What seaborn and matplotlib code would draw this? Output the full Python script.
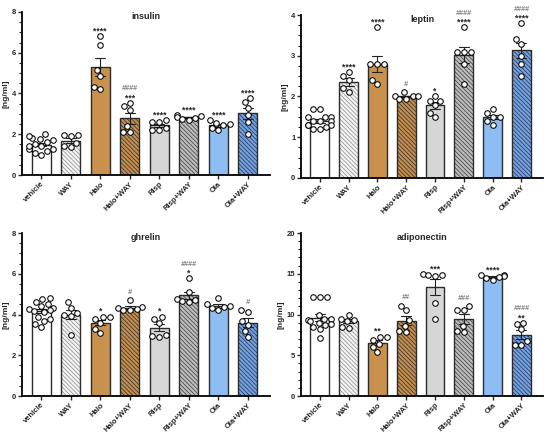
import numpy as np
import pandas as pd
import seaborn as sns
import matplotlib
matplotlib.use('Agg')
import matplotlib.pyplot as plt
from matplotlib.patches import Rectangle
from matplotlib.ticker import AutoMinorLocator, MultipleLocator

groups = ['vehicle', 'WAY', 'Halo', 'Halo+WAY', 'Risp', 'Risp+WAY', 'Ola', 'Ola+WAY']

# single animals
insulin = [
    [1.0, 1.1, 1.2, 1.3, 1.3, 1.4, 1.4, 1.5, 1.6, 1.7, 1.75, 1.8, 1.9, 2.0],
    [1.35, 1.4, 1.55, 1.9, 1.95, 1.95],
    [6.84, 6.39, 5.16, 4.87, 4.34, 4.23],
    [3.55, 3.4, 3.2, 2.4, 2.1, 2.1],
    [2.7, 2.6, 2.6, 2.3, 2.2, 2.2],
    [2.95, 2.9, 2.85, 2.8, 2.75, 2.7],
    [2.7, 2.55, 2.5, 2.45, 2.3, 2.2],
    [3.77, 3.57, 3.28, 2.95, 2.62, 2.02],
]
leptin = [
    [1.7, 1.7, 1.5, 1.5, 1.5, 1.4, 1.4, 1.4, 1.3, 1.3, 1.3, 1.2, 1.2, 1.25],
    [2.6, 2.5, 2.4, 2.2, 2.1],
    [3.7, 2.8, 2.8, 2.8, 2.4, 2.3],
    [2.1, 2.0, 2.0, 2.0, 1.95, 1.95],
    [2.0, 1.9, 1.9, 1.8, 1.6, 1.5],
    [3.7, 3.1, 3.1, 3.1, 2.8, 2.3],
    [1.7, 1.6, 1.5, 1.5, 1.4, 1.3],
    [3.8, 3.4, 3.3, 3.0, 2.8, 2.5],
]
ghrelin = [
    [4.8, 4.75, 4.6, 4.5, 4.4, 4.3, 4.25, 4.2, 4.15, 4.1, 3.9, 3.8, 3.7, 3.55, 3.4],
    [4.6, 4.3, 4.05, 4.0, 3.95, 3.0],
    [3.9, 3.9, 3.8, 3.6, 3.3, 3.1],
    [4.7, 4.35, 4.3, 4.25, 4.2, 4.2],
    [3.9, 3.8, 3.6, 3.0, 2.95, 2.9],
    [5.8, 5.1, 4.75, 4.7, 4.65, 4.6],
    [4.8, 4.5, 4.4, 4.35, 4.3, 4.2],
    [4.2, 4.1, 3.7, 3.5, 3.2, 2.9],
]
adiponectin = [
    [12.2, 12.2, 12.2, 10.0, 9.5, 9.4, 9.3, 9.2, 9.0, 8.8, 8.7, 8.5, 8.2, 7.1],
    [10.0, 9.5, 9.3, 9.2, 8.5, 8.4],
    [7.3, 7.2, 6.9, 6.4, 6.0, 5.4],
    [11.1, 10.6, 9.3, 8.6, 8.0, 7.8],
    [15.0, 14.9, 14.8, 14.7, 11.4, 9.4],
    [11.0, 10.6, 10.5, 8.6, 8.0, 7.8],
    [14.9, 14.8, 14.7, 14.6, 14.5, 14.2],
    [9.0, 8.8, 8.2, 6.7, 6.3, 6.2],
]

# significance marks (vs vehicle / vs drug alone)
insulin_stars = ['', '', '****', '***', '****', '****', '****', '****']
insulin_hash = ['', '', '', '####', '', '', '', '']
leptin_stars = ['', '****', '****', '', '*', '****', '', '****']
leptin_hash = ['', '', '', '#', '', '####', '', '####']
ghrelin_stars = ['', '', '*', '', '*', '*', '', '']
ghrelin_hash = ['', '', '', '#', '', '####', '', '#']
adipo_stars = ['', '', '**', '', '***', '', '****', '**']
adipo_hash = ['', '', '', '##', '', '###', '', '####']

face_colors = ['#ffffff', '#f4f4f4', '#c8924e', '#c08f55', '#d6d6d6', '#bdbdbd', '#8dbdf2', '#76a0da']
hatch_colors = [None, '#8a8a8a', None, '#3b2a18', None, '#3a3a3a', None, '#1c3360']

sns.set_theme(style='ticks')
plt.rcParams['font.family'] = ['Liberation Sans', 'DejaVu Sans']
plt.rcParams['font.weight'] = 'bold'
plt.rcParams['axes.labelweight'] = 'bold'
plt.rcParams['hatch.linewidth'] = 0.5

fig = plt.figure(figsize=(5.5, 4.36), dpi=100)


def panel(rect, title, values, stars, hashes, ymax, major, n_minor):
    ax = fig.add_axes(rect)
    df = pd.DataFrame({
        'group': np.repeat(groups, [len(v) for v in values]),
        'value': np.concatenate(values),
    })
    sns.barplot(data=df, x='group', y='value', hue='group', order=groups, hue_order=groups,
                palette=dict(zip(groups, face_colors)), saturation=1, errorbar='se',
                capsize=0.35, width=0.65, legend=False, ax=ax,
                err_kws={'color': '#222222', 'linewidth': 0.8})
    bars = sorted(ax.patches, key=lambda p: p.get_x())
    for bar, hc in zip(bars, hatch_colors):
        ax.add_patch(Rectangle((bar.get_x(), bar.get_y()), bar.get_width(), bar.get_height(),
                               fill=False, edgecolor='#2b2b2b', linewidth=1.0, zorder=1.2))
        if hc:
            bar.set_hatch('\\' * 8)
            bar.set_edgecolor(hc)
        bar.set_linewidth(0)

    sns.swarmplot(data=df, x='group', y='value', order=groups, color='white',
                  edgecolor='black', linewidth=0.75, size=4.0, ax=ax, zorder=3)

    for i, vals in enumerate(values):
        top = max(max(vals), np.mean(vals) + np.std(vals, ddof=1) / np.sqrt(len(vals)))
        lvl = 0
        if stars[i]:
            ax.annotate(stars[i], (i, top), xytext=(0, 1.8), textcoords='offset points',
                        ha='center', va='baseline', fontsize=6.2, annotation_clip=False)
            lvl = 1
        if hashes[i]:
            ax.annotate(hashes[i], (i, top), xytext=(0, 8.8 if lvl else 4.5),
                        textcoords='offset points', ha='center', va='baseline',
                        fontsize=5.2, color='#808080', style='italic', annotation_clip=False)

    ax.set_xlim(-0.65, 7.75)
    ax.set_ylim(0, ymax)
    ax.yaxis.set_major_locator(MultipleLocator(major))
    ax.yaxis.set_minor_locator(AutoMinorLocator(n_minor))
    ax.tick_params(axis='y', which='major', length=3, width=1, labelsize=5.5, pad=1)
    ax.tick_params(axis='y', which='minor', length=2, width=0.8)
    ax.tick_params(axis='x', length=3, width=1, labelsize=5.5, pad=1)
    ax.set_xticks(range(len(groups)))
    ax.set_xticklabels(groups, rotation=45, ha='right', rotation_mode='anchor')
    for lab in ax.get_xticklabels() + ax.get_yticklabels():
        lab.set_fontweight('bold')
    for s in ['left', 'bottom']:
        ax.spines[s].set_linewidth(1.3)
        ax.spines[s].set_color('black')
    sns.despine(ax=ax)
    ax.set_xlabel('')
    ax.set_ylabel('[ng/ml]', fontsize=6, labelpad=2)
    ax.text(0.5, 0.97, title, transform=ax.transAxes, ha='center', va='center',
            fontsize=6.5, fontweight='bold')
    return ax


W, H = 550, 436
panel([22 / W, 1 - 175 / H, 248 / W, 163 / H], 'insulin', insulin, insulin_stars, insulin_hash, 8, 2, 4)
panel([301 / W, 1 - 178 / H, 242 / W, 163 / H], 'leptin', leptin, leptin_stars, leptin_hash, 4, 1, 4)
panel([22 / W, 1 - 396 / H, 248 / W, 163 / H], 'ghrelin', ghrelin, ghrelin_stars, ghrelin_hash, 8, 2, 4)
panel([301 / W, 1 - 396 / H, 242 / W, 163 / H], 'adiponectin', adiponectin, adipo_stars, adipo_hash, 20, 5, 5)

fig.savefig('out.png', dpi=100)
